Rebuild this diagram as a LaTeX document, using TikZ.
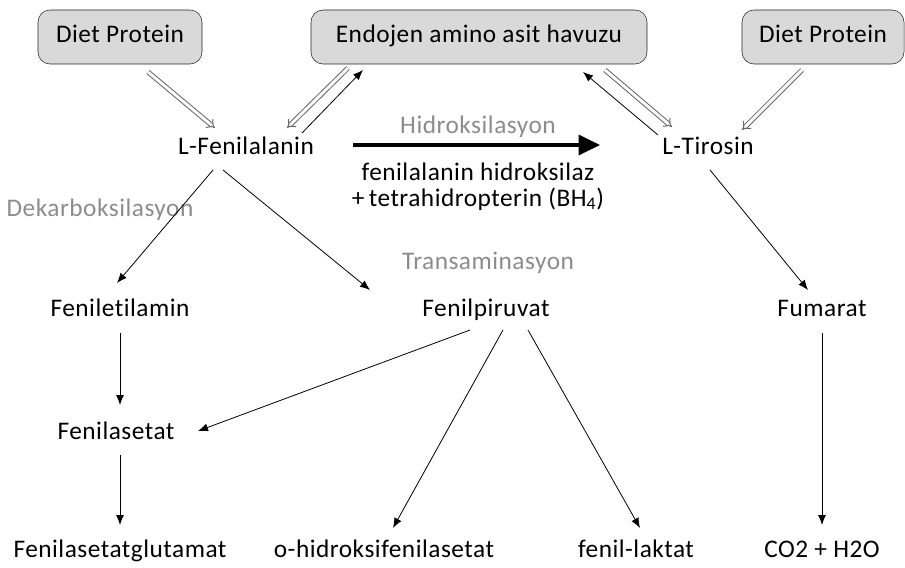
\documentclass[tikz,border=0pt]{standalone}
\usepackage{fontspec}
\setmainfont{Carlito}[Ligatures=NoCommon, LetterSpace=2]
\usetikzlibrary{arrows.meta,calc}
\newcommand\pathfont{\fontsize{19}{20}\selectfont}
\tikzset{
  box/.style={rectangle, draw=black!85, fill=black!15, rounded corners=9pt, minimum height=40.5pt, text height=13pt, text depth=4pt, font=\pathfont},
  met/.style={inner sep=1pt, text height=13pt, text depth=4pt, font=\pathfont},
  note/.style={met, text=black!45},
  flow/.style={-{Latex[length=7.5pt,width=6pt]}, line width=0.6pt},
  mainflow/.style={-{Triangle[length=16pt,width=15pt]}, line width=2.3pt},
  dblflow/.style={-{Implies}, draw=black!60, double=white, double distance=2.2pt, line width=0.75pt},
}
\begin{document}
\begin{tikzpicture}[x=0.75pt, y=-0.75pt]
  \useasboundingbox (0,0) rectangle (905,567);
  % sources
  \node[box, minimum width=123pt] (dietL) at (120,37) {Diet Protein};
  \node[box, minimum width=252pt] (havuz) at (479,37) {Endojen amino asit havuzu};
  \node[box, minimum width=121.5pt] (dietR) at (823,37) {Diet Protein};

  % metabolites
  \node[met] (lfen) at (246,148) {L-Fenilalanin};
  \node[met] (ltir) at (708,148) {L-Tirosin};
  \node[met] (fenet) at (120,310) {Feniletilamin};
  \node[met] (fpir) at (486,310) {Fenilpiruvat};
  \node[met] (fum) at (822,310) {Fumarat};
  \node[met] (fas) at (116,433) {Fenilasetat};
  \node[met] (fglu) at (120,551) {Fenilasetatglutamat};
  \node[met] (ohid) at (384,551) {o-hidroksifenilasetat};
  \node[met] (flak) at (636,551) {fenil-laktat};
  \node[met] (co2) at (822,551) {CO2 + H2O};

  % reaction labels
  \node[note] (hidr) at (478,127) {Hidroksilasyon};
  \node[met] (enz1) at (478,174) {fenilalanin hidroksilaz};
  \node[met] (enz2) at (478,200) {+\,tetrahidropterin (BH\textsubscript{4})};
  \node[note] (dek) at (100,210) {Dekarboksilasyon};
  \node[note] (trans) at (488,263) {Transaminasyon};

  % exchange with pools
  \draw[dblflow] ($(dietL)+(28,35)$) -- ($(lfen)+(-31,-20)$);
  \draw[dblflow] ($(havuz)+(-131,31)$) -- ($(lfen)+(41,-20)$);
  \draw[flow] ($(lfen)+(56,-15)$) -- ($(havuz)+(-116,33)$);
  \draw[dblflow] ($(havuz)+(126,33)$) -- ($(ltir)+(-36,-21)$);
  \draw[flow] ($(ltir)+(-50,-13)$) -- ($(havuz)+(104,35)$);
  \draw[dblflow] ($(dietR)+(-21,33)$) -- ($(ltir)+(34,-18)$);

  % main pathway
  \draw[mainflow] ($(lfen)+(107,-3)$) -- ($(ltir)+(-108,-3)$);

  % side pathways
  \draw[flow] ($(lfen)+(-33,22)$) -- ($(fenet)+(-3,-27)$);
  \draw[flow] ($(lfen)+(-23,22)$) -- ($(fpir)+(-116,-20)$);
  \draw[flow] ($(fenet)+(0,23)$) -- ($(fas)+(4,-28)$);
  \draw[flow] ($(fpir)+(-16,20)$) -- ($(fas)+(82,-2)$);
  \draw[flow] ($(fpir)+(17,20)$) -- ($(ohid)+(9,-23)$);
  \draw[flow] ($(fpir)+(42,20)$) -- ($(flak)+(4,-23)$);
  \draw[flow] ($(fas)+(4,22)$) -- ($(fglu)+(0,-26)$);
  \draw[flow] ($(ltir)+(2,22)$) -- ($(fum)+(-14,-20)$);
  \draw[flow] ($(fum)+(0,23)$) -- ($(co2)+(0,-26)$);
\end{tikzpicture}
\end{document}
